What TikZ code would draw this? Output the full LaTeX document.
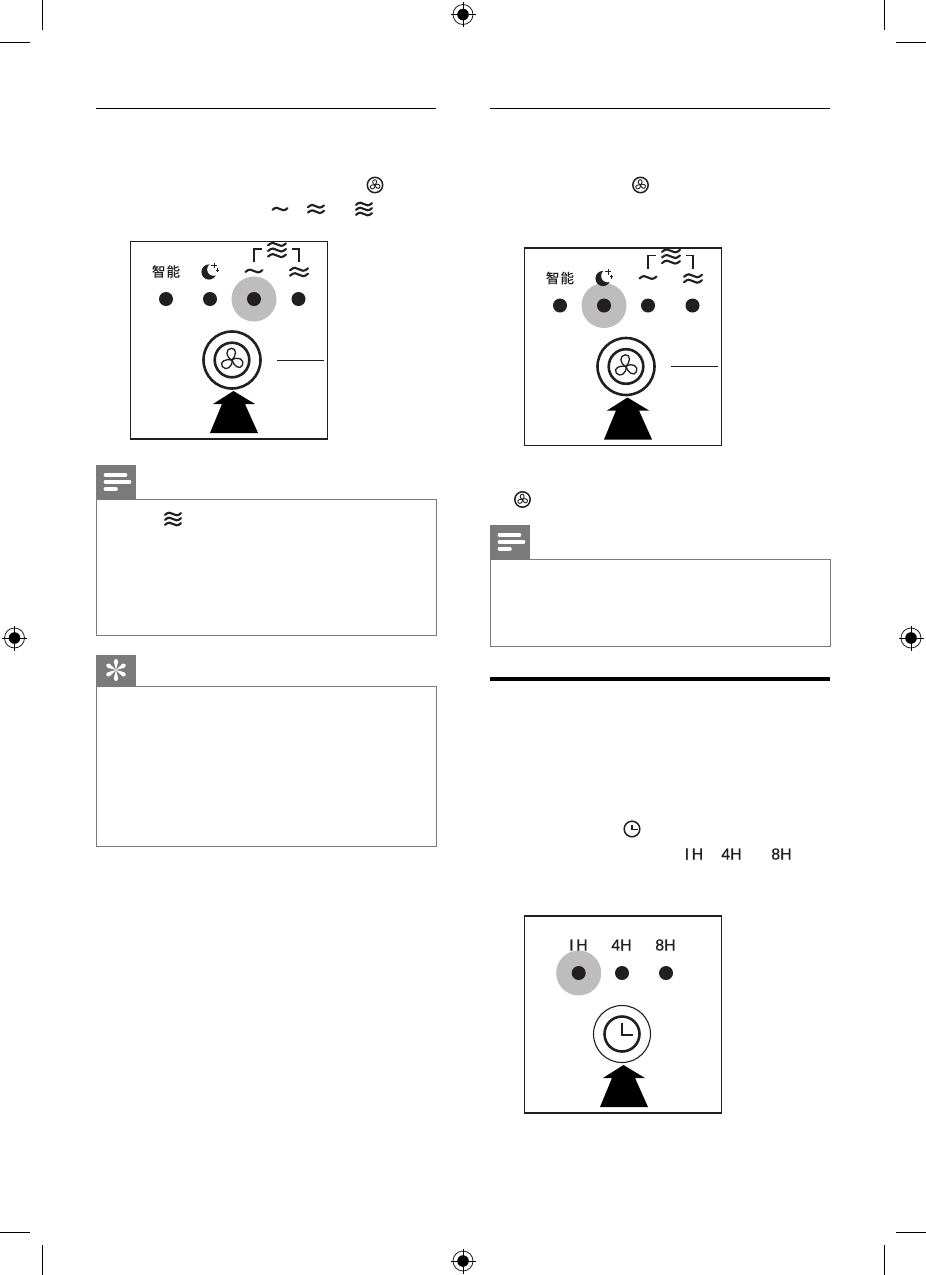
\documentclass[tikz,border=0pt]{standalone}
\usepackage{fontspec}
\setmainfont{Liberation Sans}
\newfontfamily\cjkf{Noto Sans CJK SC}
\newfontfamily\hourf[FakeBold=0.6]{Liberation Sans}
\newfontfamily\cjkb[FakeBold=0.5]{Noto Sans CJK SC}
\definecolor{ink}{HTML}{231F20}
\definecolor{halo}{HTML}{BDBDBD}
\definecolor{tabgray}{HTML}{7A7A7A}
\tikzset{
  panelbox/.style={draw=ink,line width=1.5pt},
  led/.style={fill=ink,draw=none},
  thinrule/.style={draw=ink,line width=1pt},
  notebox/.style={draw=tabgray,line width=1pt},
  tabfill/.style={fill=tabgray,draw=none},
  noteline/.style={draw=white,line width=3.6pt,line cap=round},
  crop/.style={draw=black,line width=1pt},
  hourtext/.style={font=\hourf\fontsize{16}{16}\selectfont,text=ink,inner sep=0pt},
  cjktext/.style={font=\cjkb\fontsize{13.5}{13.5}\selectfont,text=ink,inner sep=0pt}
}
\newcommand{\onewave}[3]{\draw[ink,line width=#3,line cap=round,shift={(0,#1)},xscale=#2,yscale=#2*0.72]
  (-1,.15) .. controls (-.6,-.38) and (-.25,-.28) .. (0,0) .. controls (.25,.28) and (.6,.38) .. (1,-.15);}
\newcommand{\waveA}[3]{\begin{scope}[shift={(#1,#2)}]\onewave{0}{#3}{2.1pt}\end{scope}}
\newcommand{\waveB}[3]{\begin{scope}[shift={(#1,#2)}]\onewave{-2.7}{#3}{2.1pt}\onewave{2.7}{#3}{2.1pt}\end{scope}}
\newcommand{\waveC}[4]{\begin{scope}[shift={(#1,#2)}]\onewave{-#4}{#3}{2.1pt}\onewave{0}{#3}{2.1pt}\onewave{#4}{#3}{2.1pt}\end{scope}}
\newcommand{\fanblades}[4]{\begin{scope}[shift={(#1,#2)}]
  \foreach \ang in {5,125,245}{
    \draw[ink,line width=#4,rotate=\ang,scale=#3]
      (0,0) .. controls (-.55,-.3) and (-.5,-1) .. (.02,-1.02) .. controls (.52,-1) and (.42,-.35) .. (0,0);}
  \end{scope}}
\newcommand{\fanicon}[2]{\draw[ink,line width=1.5pt] (#1,#2) circle[radius=7.7];\fanblades{#1}{#2}{5.2}{.9pt}}
\newcommand{\regmark}[2]{\begin{scope}[shift={(#1,#2)}]
  \draw[ink,line width=.8pt] (0,0) circle[radius=10];
  \fill[black] (0,0) circle[radius=5.8];
  \draw[black,line width=1pt] (-12.5,0) -- (12.5,0) (0,-12.5) -- (0,12.5);
  \end{scope}}
\newcommand{\pressarrow}{\fill[black] (233.5,391) -- (255,404) -- (245,404) -- (258,433) -- (210,433) -- (222,404) -- (213,404) -- cycle;}
\newcommand{\fanpanel}[3]{\begin{scope}[shift={(#1,#2)}]
  \draw[panelbox] (130.5,241.5) rectangle (327.5,439);
  \fill[halo] (#3,299) circle[radius=22.5];
  \foreach \xx in {166,210,254,298.5}{\fill[led] (\xx,299) circle[radius=7];}
  \node[cjktext] at (166,271.5) {智\kern1pt 能};
  \fill[ink] (209,272) circle[radius=7.6];
  \fill[white] (213.6,269.4) circle[radius=6.4];
  \draw[ink,line width=.8pt] (214,262.5) -- (214,268) (211.4,265.2) -- (216.6,265.2) (217.4,268.4) -- (217.4,272) (215.6,270.2) -- (219.2,270.2);
  \waveA{254}{271}{8.5}
  \waveB{299}{272}{9}
  \begin{scope}\clip (131,242.3) rectangle (327,300);
    \waveC{277}{250}{9}{5.6}
  \end{scope}
  \draw[ink,line width=1.4pt] (254,262) -- (254,249) -- (262,249) (292,249) -- (299,249) -- (299,262);
  \draw[ink,line width=2.6pt] (232,360) circle[radius=28.5];
  \draw[ink,line width=2.6pt] (232,360) circle[radius=17.3];
  \fanblades{232}{360}{11.5}{1.3pt}
  \draw[thinrule] (277,360) -- (324,360);
  \pressarrow
  \end{scope}}
\begin{document}
\begin{tikzpicture}[x=1pt,y=-1pt]
\useasboundingbox (0,0) rectangle (926,1275);
\fill[white] (0,0) rectangle (926,1275);
\draw[crop] (42.5,0) -- (42.5,30) (0,42.5) -- (30,42.5);
\draw[crop] (884,0) -- (884,30) (896,42.5) -- (926,42.5);
\draw[crop] (42.5,1245) -- (42.5,1275) (0,1232.5) -- (30,1232.5);
\draw[crop] (884,1245) -- (884,1275) (896,1232.5) -- (926,1232.5);
\regmark{463}{14.5}\regmark{14.5}{638}\regmark{911}{638}\regmark{463}{1261}
\draw[thinrule,black] (96,108) -- (436,108);
\draw[thinrule,black] (490,108) -- (830,108);
\draw[black,line width=4pt] (490,679) -- (830,679);
\fanicon{375}{185}
\waveA{280}{209}{7.5}
\waveB{316}{209}{8}
\waveC{364}{209}{8}{5}
\fanicon{640.5}{185}
\fanicon{522.5}{499.5}
\waveC{173}{519}{8}{5}
\draw[ink,line width=1.5pt] (632,829) circle[radius=7.8];
\draw[ink,line width=1.2pt] (632,824.5) -- (632,829.5) -- (637.5,829.5);
\node[hourtext] (ih) at (694,854) {I\kern2.5pt H};
\node[hourtext] (fh) at (731.5,854) {4H};
\node[hourtext] (eh) at (781.5,854) {8H};
\fanpanel{0}{0}{254}
\fanpanel{394}{6.5}{210}
\draw[notebox] (96.5,499.5) rectangle (436.5,635);
\fill[tabfill] (96,465) rectangle (136,499.5);
\draw[noteline] (105.5,475) -- (125.5,475) (105.5,482) -- (129.5,482) (105.5,489) -- (116,489);
\draw[notebox] (96.5,686.5) rectangle (436.5,846);
\fill[tabfill] (96,655) rectangle (136,686.5);
\foreach \ang in {0,60,...,300}{
  \fill[white,shift={(116,670)},rotate=\ang] (0,0) -- (-1.6,-6) .. controls (-4.2,-12.8) and (4.2,-12.8) .. (1.6,-6) -- cycle;}
\draw[notebox] (490.5,559.5) rectangle (830.5,646);
\fill[tabfill] (490,525) rectangle (530,559.5);
\draw[noteline] (499.5,535) -- (519.5,535) (499.5,542) -- (523.5,542) (499.5,549) -- (510,549);
\draw[panelbox] (524.5,916) rectangle (721.5,1113);
\fill[halo] (578.7,973) circle[radius=22.5];
\foreach \xx in {578.7,622,666}{\fill[led] (\xx,973) circle[radius=7];}
\node[hourtext] (pa) at (578.5,945) {I\kern2.5pt H};
\node[hourtext] (pb) at (621.5,945) {4H};
\node[hourtext] (pc) at (665.5,945) {8H};
\draw[ink,line width=1.1pt] (622,1034) circle[radius=28.5];
\draw[ink,line width=2.6pt] (622,1034) circle[radius=17.5];
\draw[ink,line width=2.2pt] (622,1022.5) -- (622,1035) -- (632.5,1035);
\begin{scope}[shift={(390,674)}]\pressarrow\end{scope}
\end{tikzpicture}
\end{document}
